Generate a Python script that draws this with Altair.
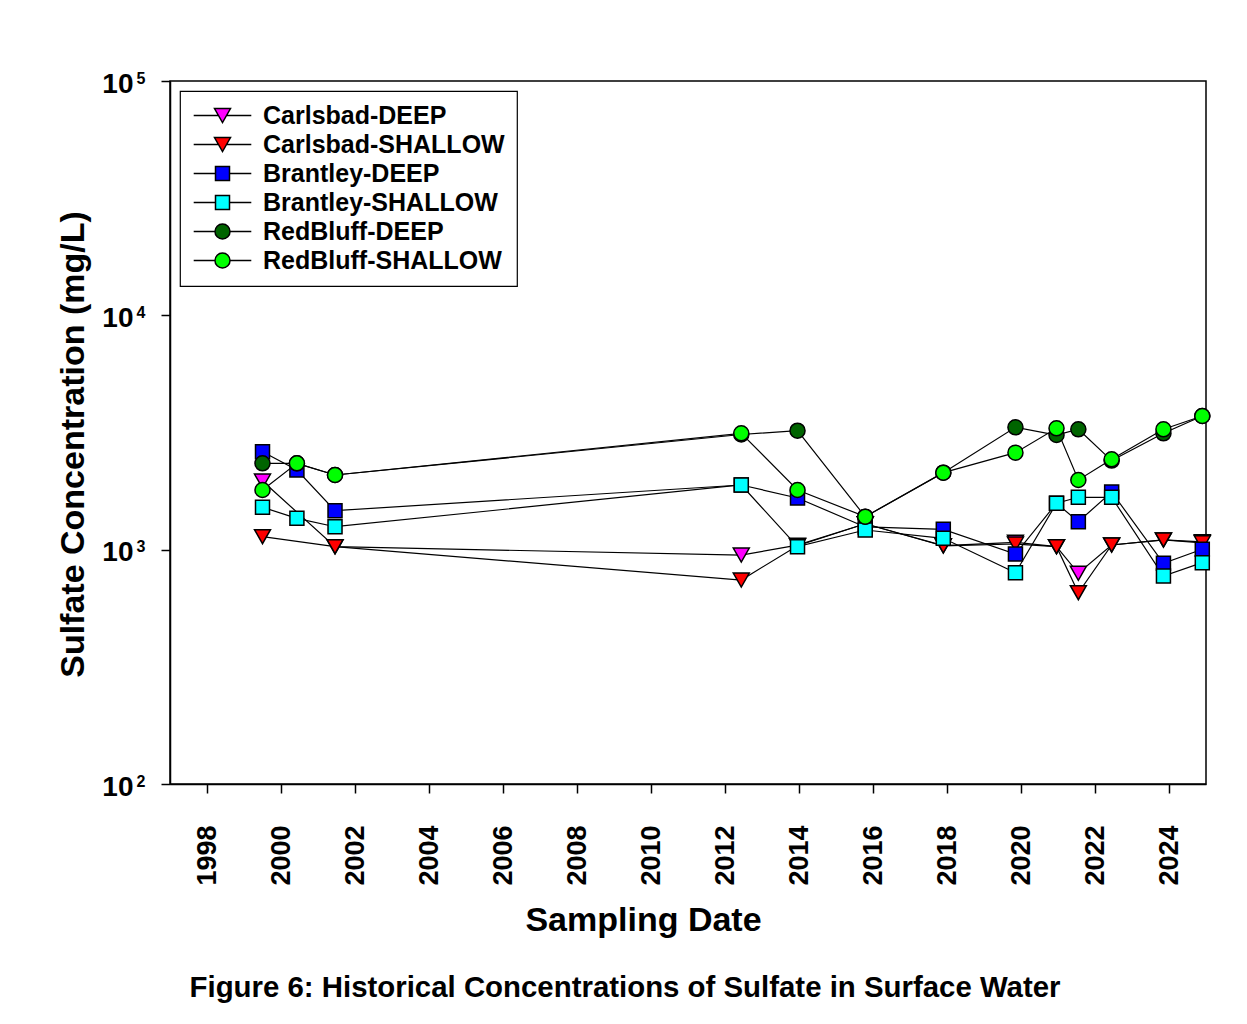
import altair as alt
import pandas as pd

# ---------------- data ----------------
dates = [1999.5, 2000.43, 2001.46, 2012.44, 2013.96, 2015.79, 2017.9,
         2019.85, 2020.96, 2021.55, 2022.45, 2023.85, 2024.9]

series_names = ["Carlsbad-DEEP", "Carlsbad-SHALLOW", "Brantley-DEEP",
                "Brantley-SHALLOW", "RedBluff-DEEP", "RedBluff-SHALLOW"]

carlsbad_deep    = [1963, None, 1030, 948, 1045, 1290, 1040, 1075, 1030, 793, 1047, 1100, 1080]
carlsbad_shallow = [1136, None, 1030, 742, 1040, 1290, 1037, 1057, 1030, 655, 1047, 1100, 1070]
brantley_deep    = [2618, 2188, 1467, 1888, 1662, 1250, 1221, 958, 1578, 1316, 1762, 875, 1004]
brantley_shallow = [1517, 1361, 1253, 1888, 1030, 1213, 1118, 797, 1578, 1673, 1673, 772, 880]
redbluff_deep    = [2336, 2336, 2083, 3100, 3219, 1383, 2131, 3327, 3085, 3264, 2400, 3138, 3719]
redbluff_shallow = [1797, 2336, 2083, 3138, 1797, 1383, 2131, 2594, 3295, 1983, 2430, 3264, 3719]

fill_colors = ["#FF00FF", "#FF0000", "#0000FF", "#00FFFF", "#006400", "#00FF00"]

x_ticks = [1998, 2000, 2002, 2004, 2006, 2008, 2010, 2012, 2014, 2016, 2018, 2020, 2022, 2024]
y_ticks = [100, 1000, 10000, 100000]
y_tick_base = "10"
y_tick_exponents = ["2", "3", "4", "5"]

x_title = "Sampling Date"
y_title = "Sulfate Concentration (mg/L)"
caption = "Figure 6: Historical Concentrations of Sulfate in Surface Water"

# ---------------- build table ----------------
all_series = [carlsbad_deep, carlsbad_shallow, brantley_deep,
              brantley_shallow, redbluff_deep, redbluff_shallow]
rows = []
for name, vals in zip(series_names, all_series):
    for d, v in zip(dates, vals):
        if v is not None:
            rows.append({"series": name, "date": d, "value": v})
df = pd.DataFrame(rows)

# marker shapes (unit box -1..1)
tri = "M-1,-0.875L1,-0.875L0,0.875Z"
sq = "M-0.875,-0.875H0.875V0.875H-0.875Z"
circ = "M-0.94,0A0.94,0.94 0 1,0 0.94,0A0.94,0.94 0 1,0 -0.94,0Z"
marker_paths = [tri, tri, sq, sq, circ, circ]
# legend shapes: marker with a line through it
leg_tri = "M-3.6,0H-0.5M0.5,0H3.6" + tri
leg_sq = "M-3.6,0H-0.875M0.875,0H3.6" + sq
leg_circ = "M-3.6,0H-0.94M0.94,0H3.6" + circ
legend_paths = [leg_tri, leg_tri, leg_sq, leg_sq, leg_circ, leg_circ]

FONT = "Liberation Sans"

exp_expr = " : ".join(
    [f"datum.value == {v} ? '{t}'" for v, t in zip(y_ticks, y_tick_exponents)]
) + " : ''"

y_scale = alt.Scale(type="log", domain=[100, 100000], nice=False)

x_enc = alt.X(
    "date:Q",
    scale=alt.Scale(domain=[1997, 2025], nice=False, zero=False),
    axis=alt.Axis(
        values=x_ticks, format="d", labelAngle=270, labelFontSize=27,
        labelPadding=32, tickSize=9, labelFlush=False, labelOverlap=False,
        titleFontSize=34, titleX=473, titleY=146, titleBaseline="alphabetic",
        titleAlign="center",
    ),
    title=x_title,
)
y_enc = alt.Y(
    "value:Q",
    scale=y_scale,
    axis=alt.Axis(
        orient="left", values=y_ticks, labelExpr=f"'{y_tick_base}'", labelFontSize=28,
        labelPadding=28, tickSize=9, labelFlush=False, labelOverlap=False,
        labelBaseline="alphabetic", labelOffset=11,
        titleFontSize=34, titleAngle=270, titleX=-87, titleY=363,
        titleBaseline="alphabetic", titleAlign="center",
    ),
    title=y_title,
)
y_exp = alt.Y(
    "value:Q",
    scale=y_scale,
    axis=alt.Axis(
        orient="left", values=y_ticks, labelExpr=exp_expr, labelFontSize=16,
        labelPadding=25, tickSize=0, domain=False, labelFlush=False,
        labelOverlap=False, labelBaseline="alphabetic", labelOffset=2,
        title=None,
    ),
)
y_none = alt.Y("value:Q", scale=y_scale, axis=None)

legend = alt.Legend(
    title=None, orient="none", legendX=10, legendY=10,
    labelFont=FONT, labelFontSize=25, labelFontWeight="bold", labelColor="black",
    labelLimit=500,
    symbolSize=256, symbolStrokeColor="black", symbolStrokeWidth=1.5,
    symbolOpacity=1, symbolOffset=18, labelOffset=28, rowPadding=3,
    padding=12, strokeColor="black", fillColor="white",
)

base = alt.Chart(df)

lines = base.mark_line(color="black", strokeWidth=1.2).encode(
    x=x_enc, y=y_enc, detail="series:N", order="date:Q"
)

points = base.mark_point(
    filled=True, size=256, stroke="black", strokeWidth=1.5, opacity=1
).encode(
    x=x_enc, y=y_exp,
    color=alt.Color("series:N", scale=alt.Scale(domain=series_names, range=fill_colors), legend=None),
    shape=alt.Shape("series:N", scale=alt.Scale(domain=series_names, range=marker_paths), legend=None),
)

legend_layer = base.mark_point(
    filled=True, size=256, strokeWidth=1.5, opacity=0
).encode(
    x=x_enc, y=y_none,
    color=alt.Color("series:N", scale=alt.Scale(domain=series_names, range=fill_colors), legend=legend),
    shape=alt.Shape("series:N", scale=alt.Scale(domain=series_names, range=legend_paths), legend=legend),
    stroke=alt.Stroke("series:N", scale=alt.Scale(domain=series_names, range=["black"] * 6), legend=legend),
)

chart = (
    alt.layer(lines, points, legend_layer)
    .resolve_scale(color="independent", shape="independent", stroke="independent")
    .resolve_axis(y="independent")
    .properties(
        width=1036, height=703,
        autosize=alt.AutoSizeParams(type="none"),
        padding={"left": 162, "top": 73, "right": 25, "bottom": 225},
        title=alt.Title(
            text=caption, orient="bottom", frame="group", anchor="middle",
            dx=-63, offset=60, fontSize=29.4, font=FONT, fontWeight="bold",
            color="black", baseline="alphabetic",
        ),
    )
    .configure_view(stroke="black", strokeWidth=1.5)
    .configure_axis(
        grid=False, domainColor="black", domainWidth=1.5, tickColor="black",
        tickWidth=1.5, labelFont=FONT, labelFontWeight="bold", labelColor="black",
        titleFont=FONT, titleFontWeight="bold", titleColor="black",
    )
    .configure_legend(strokeWidth=1.2)
)

chart.save("out.html", embed_options={"renderer": "svg", "actions": False})
